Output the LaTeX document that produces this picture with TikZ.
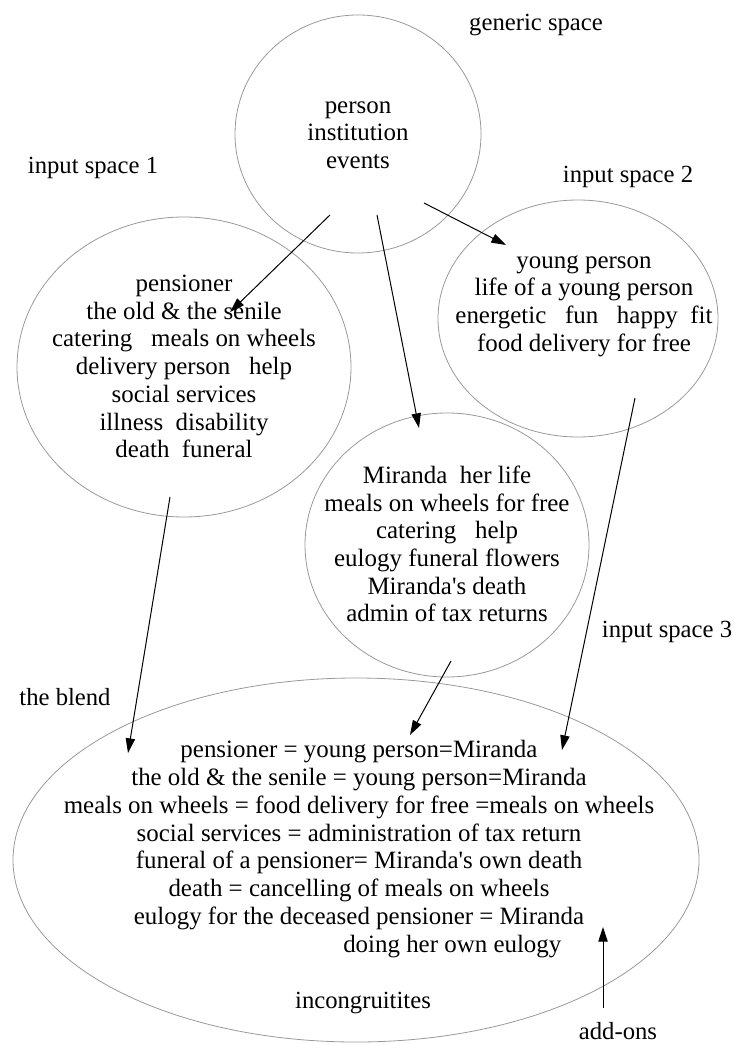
\documentclass[tikz,border=0pt]{standalone}
\usepackage{fontspec}
\setmainfont{Liberation Serif}
\usetikzlibrary{arrows.meta,shapes.geometric}

\begin{document}
\begin{tikzpicture}[
    x=0.75pt,y=-0.75pt,
    space/.style={draw=gray!80, line width=0.6pt, ellipse, inner sep=0pt},
    words/.style={align=center, font=\fontsize{18.7}{20.8}\selectfont, inner sep=0pt},
    tag/.style={font=\fontsize{18.5}{20.8}\selectfont, inner sep=0pt},
    edge/.style={-{Triangle[length=11pt,width=7pt]}, line width=0.75pt}
  ]
    \path[use as bounding box] (0,0) rectangle (734,1045);

    % the five spaces
    \node[space, minimum width=184.5pt, minimum height=178.5pt] (generic) at (358,134) {};
    \node[space, minimum width=250.5pt, minimum height=225pt] (input1) at (184,367) {};
    \node[space, minimum width=210pt, minimum height=177.75pt] (input2) at (578,318.5) {};
    \node[space, minimum width=213pt, minimum height=198pt] (input3) at (447,545) {};
    \node[space, minimum width=514.5pt, minimum height=273pt] (blend) at (356,860) {};

    \node[words] (genericText) at (358,135) {person\\institution\\events};
    \node[words] (input1Text) at (184,366.5) {pensioner\\the old \& the senile\\catering \ \ meals on wheels\\delivery person \ \ help\\social services\\illness \ disability\\death \ funeral};
    \node[words] (input2Text) at (584,306) {young person\\life of a young person\\energetic \ \ fun \ \ happy \ fit\\food delivery for free};
    \node[words] (input3Text) at (447,544) {Miranda \ her life\\meals on wheels for free\\catering \ \ help\\eulogy funeral flowers\\Miranda\textquotesingle s death\\admin of tax returns};
    \node[words] (blendText) at (359,849) {pensioner = young person=Miranda\\the old \& the senile = young person=Miranda\\meals on wheels = food delivery for free =meals on wheels\\social services = administration of tax return\\funeral of a pensioner= Miranda\textquotesingle s own death\\death = cancelling of meals on wheels\\eulogy for the deceased pensioner = Miranda\\\hspace*{140pt}doing her own eulogy};

    % labels
    \node[tag] (genericLabel) at (536,25) {generic space};
    \node[tag] (input1Label) at (93,168) {input space 1};
    \node[tag] (input2Label) at (628,177) {input space 2};
    \node[tag] (input3Label) at (667,632) {input space 3};
    \node[tag] (blendLabel) at (65,697) {the blend};
    \node[tag] (incongLabel) at (363,1003) {incongruitites};
    \node[tag] (addLabel) at (618,1031) {add-ons};

    % arrow ends
    \coordinate (g1) at (330,215);
    \coordinate (g2) at (377,215);
    \coordinate (g3) at (424,203);
    \coordinate (in1) at (230,312);
    \coordinate (in2) at (506,245);
    \coordinate (in3) at (419,428);
    \coordinate (out1) at (170,497);
    \coordinate (out2) at (635,398);
    \coordinate (out3) at (451,661);
    \coordinate (b1) at (128,753);
    \coordinate (b2) at (562,750);
    \coordinate (b3) at (410,735);
    \coordinate (addFoot) at (603,1008);
    \coordinate (addTip) at (603,927);

    \draw[edge] (g1) -- (in1);
    \draw[edge] (g2) -- (in3);
    \draw[edge] (g3) -- (in2);
    \draw[edge] (out1) -- (b1);
    \draw[edge] (out2) -- (b2);
    \draw[edge] (out3) -- (b3);
    \draw[edge] (addFoot) -- (addTip);
  \end{tikzpicture}
\end{document}
